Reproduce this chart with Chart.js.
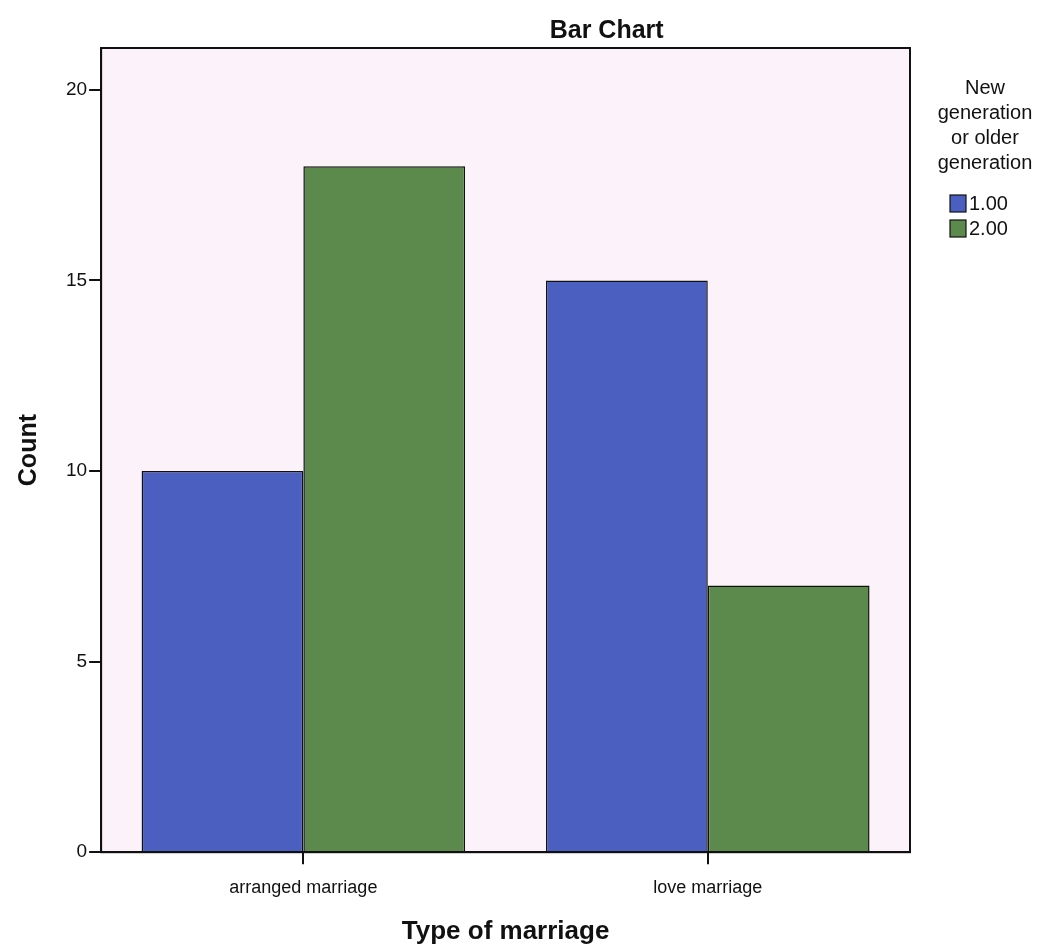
<!DOCTYPE html>
<html>
<head>
<meta charset="utf-8">
<script src="https://cdn.jsdelivr.net/npm/chart.js@4"></script>
<style>
  html, body { margin: 0; padding: 0; background: #fff; }
  #wrap { width: 1049px; height: 947px; }
</style>
</head>
<body>
<div id="wrap"><canvas id="myChart"></canvas></div>
<script>
const categories = ['arranged marriage', 'love marriage']
const seriesNames = ['1.00', '2.00']
const newGen = [10, 15]
const olderGen = [18, 7]
const yTicks = [0, 5, 10, 15, 20]
const legendTitle = ['New', 'generation', 'or older', 'generation']
const colors = ['#4a5fc0', '#5c8a4c']

const sans = '"Liberation Sans", Arial, sans-serif'

// pink plot background + black frame, title and legend drawn by hand
const frame = {
  id: 'frame',
  beforeDraw(chart) {
    const { ctx, chartArea: a } = chart
    ctx.save()
    ctx.fillStyle = '#fcf3fa'
    ctx.fillRect(a.left, a.top, a.right - a.left, a.bottom - a.top)
    ctx.restore()
  },
  afterDraw(chart) {
    const { ctx, chartArea: a } = chart
    ctx.save()
    ctx.strokeStyle = '#111'
    ctx.lineWidth = 2
    ctx.strokeRect(a.left, a.top, a.right - a.left, a.bottom - a.top)

    ctx.fillStyle = '#111'
    ctx.font = 'bold 25px ' + sans
    ctx.textAlign = 'center'
    ctx.textBaseline = 'middle'
    ctx.fillText('Bar Chart', a.left + (a.right - a.left) * 0.625, a.top - 17)

    // legend
    const lx = a.right + 75
    ctx.font = '20px ' + sans
    legendTitle.forEach((t, i) => ctx.fillText(t, lx, a.top + 40 + i * 25))
    ctx.textAlign = 'left'
    chart.data.datasets.forEach((ds, i) => {
      const y = a.top + 156 + i * 25
      ctx.fillStyle = ds.backgroundColor
      ctx.fillRect(lx - 35, y - 9, 16, 17)
      ctx.strokeStyle = '#111'
      ctx.lineWidth = 1.2
      ctx.strokeRect(lx - 35, y - 9, 16, 17)
      ctx.fillStyle = '#111'
      ctx.fillText(ds.label, lx - 16, y)
    })
    ctx.restore()
  }
}

new Chart(document.getElementById('myChart'), {
  type: 'bar',
  data: {
    labels: categories,
    datasets: [
      { label: seriesNames[0], data: newGen, backgroundColor: colors[0] },
      { label: seriesNames[1], data: olderGen, backgroundColor: colors[1] }
    ]
  },
  options: {
    responsive: true,
    maintainAspectRatio: false,
    animation: false,
    layout: { padding: { top: 48, right: 139, left: 10, bottom: 0 } },
    datasets: {
      bar: {
        borderColor: '#111',
        borderWidth: 1.5,
        categoryPercentage: 0.8,
        barPercentage: 1
      }
    },
    scales: {
      x: {
        grid: { display: true, offset: false, drawOnChartArea: false, tickLength: 12, color: '#111', lineWidth: 2 },
        border: { color: '#111', width: 2 },
        ticks: { color: '#111', font: { family: sans, size: 18 }, padding: 13 },
        title: { display: true, text: 'Type of marriage', color: '#111', font: { family: sans, size: 26, weight: 'bold' }, padding: { top: 4, bottom: 0 } }
      },
      y: {
        min: 0,
        max: 21.1,
        afterBuildTicks: (axis) => { axis.ticks = yTicks.map(v => ({ value: v })) },
        grid: { display: true, drawOnChartArea: false, tickLength: 12, color: '#111', lineWidth: 2 },
        border: { color: '#111', width: 2 },
        ticks: { color: '#111', font: { family: sans, size: 19 }, padding: 2 },
        title: { display: true, text: 'Count', color: '#111', font: { family: sans, size: 25, weight: 'bold' }, padding: { bottom: 20 } }
      }
    },
    plugins: {
      legend: { display: false },
      tooltip: { enabled: false }
    }
  },
  plugins: [frame]
})
</script>
</body>
</html>
